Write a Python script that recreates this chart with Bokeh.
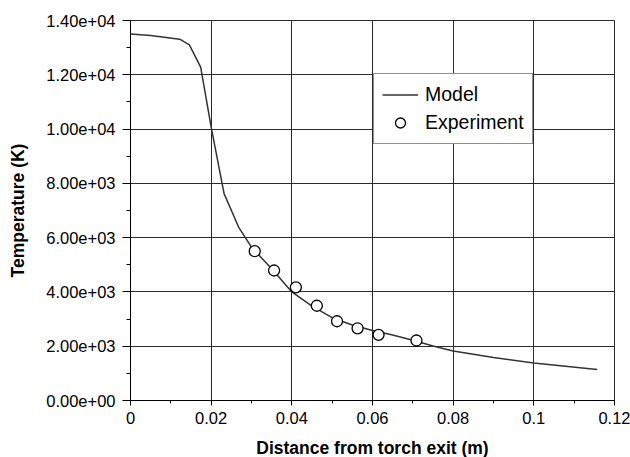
from bokeh.plotting import figure
from bokeh.models import FixedTicker, Legend, LegendItem, Range1d
from bokeh.embed import file_html
from bokeh.resources import INLINE

# Model curve
model_x = [0.0, 0.005, 0.0122, 0.0146, 0.0174, 0.020, 0.0232, 0.0268, 0.030, 0.035,
           0.040, 0.045, 0.050, 0.055, 0.060, 0.065, 0.070, 0.075, 0.080, 0.090,
           0.100, 0.1157]
model_y = [13500, 13450, 13310, 13100, 12280, 10070, 7620, 6390, 5650, 4850,
           4000, 3480, 3050, 2780, 2580, 2410, 2220, 2010, 1820, 1580,
           1380, 1140]

# Experiment points
exp_x = [0.0308, 0.0356, 0.0410, 0.0462, 0.0512, 0.0563, 0.0615, 0.0709]
exp_y = [5500, 4790, 4170, 3490, 2920, 2660, 2420, 2210]

x_ticks = [0.0, 0.02, 0.04, 0.06, 0.08, 0.10, 0.12]
x_labels = ["0", "0.02", "0.04", "0.06", "0.08", "0.1", "0.12"]
x_minor = [0.01, 0.03, 0.05, 0.07, 0.09, 0.11]
y_ticks = [0, 2000, 4000, 6000, 8000, 10000, 12000, 14000]
y_labels = ["0.00e+00", "2.00e+03", "4.00e+03", "6.00e+03", "8.00e+03",
            "1.00e+04", "1.20e+04", "1.40e+04"]
y_minor = [1000, 3000, 5000, 7000, 9000, 11000, 13000]

FONT = "Liberation Sans"
GRID = "#2a2a2a"

p = figure(frame_width=484, frame_height=380, output_backend="svg",
           toolbar_location=None, x_range=Range1d(0, 0.12), y_range=Range1d(0, 14000),
           min_border_left=130, min_border_right=16, min_border_top=20, min_border_bottom=57)
p.background_fill_color = "white"
p.border_fill_color = "white"
p.outline_line_color = GRID
p.outline_line_width = 1

p.xaxis.ticker = FixedTicker(ticks=x_ticks, minor_ticks=x_minor)
p.yaxis.ticker = FixedTicker(ticks=y_ticks, minor_ticks=y_minor)
p.xaxis.major_label_overrides = {t: l for t, l in zip(x_ticks, x_labels)}
p.yaxis.major_label_overrides = {t: l for t, l in zip(y_ticks, y_labels)}

for ax in (p.xaxis[0], p.yaxis[0]):
    ax.axis_line_color = "black"
    ax.axis_line_width = 1
    ax.major_tick_line_color = "black"
    ax.minor_tick_line_color = "black"
    ax.major_tick_in = 0
    ax.minor_tick_in = 0
    ax.major_label_text_font = FONT
    ax.major_label_text_font_size = "16.5px"
    ax.major_label_text_color = "black"
    ax.axis_label_text_font = FONT
    ax.axis_label_text_font_size = "17.5px"
    ax.axis_label_text_font_style = "bold"
    ax.axis_label_text_color = "black"

p.xaxis.major_tick_out = 5
p.xaxis.minor_tick_out = 3
p.xaxis.major_label_standoff = 6
p.xaxis.axis_label_standoff = 11
p.yaxis.major_tick_out = 8
p.yaxis.minor_tick_out = 4
p.yaxis.major_label_standoff = 7
p.yaxis.axis_label_standoff = 15

p.xaxis.axis_label = "Distance from torch exit (m)"
p.yaxis.axis_label = "Temperature (K)"

p.xgrid.ticker = FixedTicker(ticks=x_ticks)
p.ygrid.ticker = FixedTicker(ticks=y_ticks)
p.grid.grid_line_color = GRID
p.grid.grid_line_width = 1

line_r = p.line(model_x, model_y, line_color="#333333", line_width=1.5)
circ_r = p.scatter(exp_x, exp_y, marker="circle", size=11, fill_color="white",
                   line_color="black", line_width=1.3)

legend = Legend(items=[LegendItem(label="Model", renderers=[line_r]),
                       LegendItem(label="Experiment", renderers=[circ_r])],
                location=(243, 256), orientation="vertical")
legend.padding = 8
legend.spacing = 3
legend.margin = 0
legend.glyph_width = 36
legend.glyph_height = 25
legend.label_height = 25
legend.label_standoff = 7
legend.label_text_font = FONT
legend.label_text_font_size = "19.5px"
legend.label_text_color = "black"
legend.border_line_color = "#222222"
legend.border_line_width = 1.5
legend.background_fill_color = "white"
legend.background_fill_alpha = 1
p.add_layout(legend, "center")

open("out.html", "w").write(file_html(p, INLINE))
